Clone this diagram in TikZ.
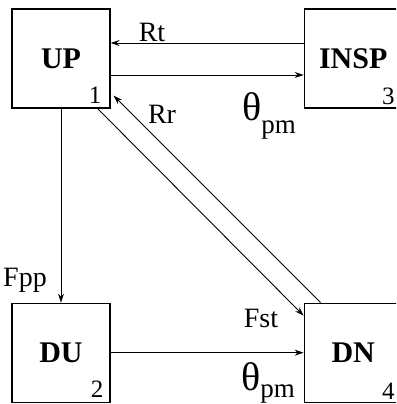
\documentclass[tikz,border=0pt]{standalone}
\usepackage{fontspec}
\setmainfont{Liberation Serif}
\usetikzlibrary{
	positioning,
	arrows.meta
}
\newcommand{\thetapm}[1]{{\fontsize{40}{40}\selectfont θ}\raisebox{#1}{\fontsize{27}{27}\selectfont pm}}

\begin{document}
\begin{tikzpicture}[
	x=1pt,
	y=-1pt,
	every node/.style={
		font=\fontsize{28}{30}\selectfont
	},
	blockbox/.style={
		draw,
		line width=1.2pt,
		minimum width=98pt,
		minimum height=99pt,
		inner sep=0pt,
		font=\fontsize{30}{32}\selectfont\bfseries
	},
	numlabel/.style={
		anchor=base east,
		inner sep=0pt,
		font=\fontsize{25}{26}\selectfont
	},
	flow/.style={
		-{Stealth[length=9pt,width=6pt]},
		line width=0.9pt
	}
	]
	
	\useasboundingbox (0,0) rectangle (396,404);
	\clip (0,0) rectangle (396,404);
	
	\node[blockbox] (UP) at (61,58.5) {UP};
	
	\node[
	blockbox,
	right=193pt of UP
	] (INSP) {INSP};
	
	\node[
	blockbox,
	below=194pt of UP
	] (DU) {DU};
	
	\node[
	blockbox,
	right=193pt of DU
	] (DN) {DN};
	
	% numbers in the corners
	\node[numlabel] (num1) at ([xshift=-9pt,yshift=5pt]UP.south east) {1};
	\node[numlabel] (num2) at ([xshift=-7pt,yshift=5pt]DU.south east) {2};
	\node[numlabel] (num3) at ([xshift=-8pt,yshift=4pt]INSP.south east) {3};
	\node[numlabel] (num4) at ([xshift=-8pt,yshift=3pt]DN.south east) {4};
	
	% connectors
	\draw[flow] ([yshift=15.5pt]INSP.west) -- ([yshift=15.5pt]UP.east);
	
	\draw[flow] ([yshift=-16.5pt]UP.east) -- ([yshift=-16.5pt]INSP.west);
	
	\draw[flow] (UP.south) -- (UP.south |- DU.north);
	
	\coordinate (rrend) at ([xshift=3pt,yshift=13pt]UP.south east);
	\draw[flow] ([xshift=17pt]DN.north west) -- (rrend);
	
	\draw[flow] ([xshift=-13pt]UP.south east) -- ([yshift=-13pt]DN.north west);
	
	\draw[flow] (DU.east) -- (DU.east -| DN.west);
	
	% labels
	\node (rt) at (152,32) {Rt};
	\node (rr) at (162,114) {Rr};
	\node (fpp) at (25,280) {Fpp};
	\node (fst) at (261,318) {Fst};
	\node[anchor=base west,inner sep=0pt] (thtop) at (242,120) {\thetapm{-13pt}};
	\node[anchor=base west,inner sep=0pt] (thbot) at (241,390) {\thetapm{-7pt}};
	
\end{tikzpicture}
\end{document}
